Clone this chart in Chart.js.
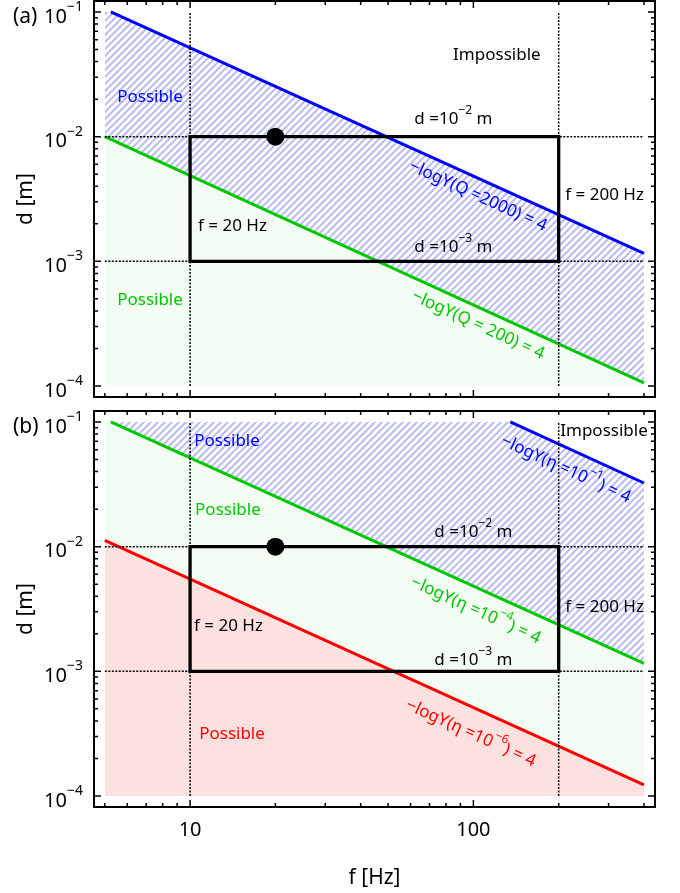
<!DOCTYPE html>
<html>
<head>
<meta charset="utf-8">
<script src="https://cdn.jsdelivr.net/npm/chart.js@4.4.0/dist/chart.umd.min.js"></script>
<style>
  body { margin: 0; background: #fff; }
  #wrap { position: relative; width: 680px; height: 893px; }
  canvas { position: absolute; left: 0; }
</style>
</head>
<body>
<div id="wrap">
  <canvas id="chartA" width="680" height="405" style="top:0"></canvas>
  <canvas id="chartB" width="680" height="488" style="top:405px"></canvas>
</div>
<script>
// frequency span of the curves and shaded areas
const fCurve = [5, 400];
// curves are cut at d = 0.1, shaded areas stop at d = 1e-4
const dCap = 0.1;
const dFloor = 1e-4;
// (a) -logY(Q) = 4
const fQ2000 = [5.25, 400];
const dQ2000 = [0.1, 0.00116];
const fQ200 = [5, 400];
const dQ200 = [0.0100, 0.000106];
// (b) -logY(eta) = 4
const fEta1 = [135, 400];
const dEta1 = [0.1, 0.0324];
const fEta4 = [5.25, 400];
const dEta4 = [0.1, 0.00116];
const fEta6 = [5, 400];
const dEta6 = [0.01125, 0.000123];
// box and marked point
const fBox = [10, 200];
const dBox = [1e-3, 1e-2];
const fMark = [20];
const dMark = [1e-2];
// dotted guides
const fGuides = [10, 200];
const dGuides = [1e-2, 1e-3];
const dGuideSpan = [1e-4, 1e-1];
// axes
const xTicks = [10, 100];
const xTickLabels = ['10', '100'];
const yTicks = [1e-1, 1e-2, 1e-3, 1e-4];
const yTickLabels = ['10^{−1}', '10^{−2}', '10^{−3}', '10^{−4}'];
const xRange = [4.58, 437.5];
const yRange = [8.16e-5, 0.1225];

const FONT = "'Noto Sans', 'DejaVu Sans', sans-serif";
const BLUE = '#0000ff';
const GREEN = '#00c800';
const RED = '#ff0000';
const LIGHT_GREEN = 'rgb(243,253,243)';
const PINK = 'rgb(253,224,224)';

const labelsA = [
    { text: 'Impossible', f: 121, d: 0.0452, color: '#000' },
    { text: 'Possible', f: 7.22, d: 0.0208, color: BLUE },
    { text: 'd =10^{−2} m', f: 85, d: 0.0139, color: '#000' },
    { text: 'f = 200 Hz', f: 211, d: 0.0034, color: '#000', align: 'left' },
    { text: 'f = 20 Hz', f: 10.67, d: 0.00192, color: '#000', align: 'left' },
    { text: 'd =10^{−3} m', f: 85, d: 0.0013, color: '#000' },
    { text: 'Possible', f: 7.22, d: 0.00049, color: GREEN },
    { text: '−logY(Q =2000) = 4', f: 104, d: 0.00334, color: BLUE, along: [fQ2000, dQ2000] },
    { text: '−logY(Q = 200) = 4', f: 104, d: 0.000308, color: GREEN, along: [fQ200, dQ200] }
];
const labelsB = [
    { text: 'Possible', f: 13.5, d: 0.070, color: BLUE },
    { text: 'Impossible', f: 289, d: 0.0842, color: '#000' },
    { text: '−logY(η =10^{−1}) = 4', f: 212, d: 0.0418, color: BLUE, along: [fEta1, dEta1] },
    { text: 'Possible', f: 13.6, d: 0.0196, color: GREEN },
    { text: 'd =10^{−2} m', f: 100, d: 0.0130, color: '#000' },
    { text: '−logY(η =10^{−4}) = 4', f: 102, d: 0.00309, color: GREEN, along: [fEta4, dEta4] },
    { text: 'f = 200 Hz', f: 211, d: 0.00327, color: '#000', align: 'left' },
    { text: 'f = 20 Hz', f: 10.33, d: 0.0023, color: '#000', align: 'left' },
    { text: 'd =10^{−3} m', f: 100, d: 0.00123, color: '#000' },
    { text: '−logY(η =10^{−6}) = 4', f: 98, d: 0.000318, color: RED, along: [fEta6, dEta6] },
    { text: 'Possible', f: 14.06, d: 0.000313, color: RED }
];

function pts(fs, ds) {
    return fs.map((f, i) => ({ x: f, y: ds[i] }));
}

function makeHatch(ctx) {
    const s = 7;
    const c = document.createElement('canvas');
    c.width = s;
    c.height = s;
    const g = c.getContext('2d');
    g.fillStyle = '#fff';
    g.fillRect(0, 0, s, s);
    g.strokeStyle = 'rgb(186,190,245)';
    g.lineWidth = 2.1;
    g.beginPath();
    g.moveTo(0, s); g.lineTo(s, 0);
    g.moveTo(-s / 2, s / 2); g.lineTo(s / 2, -s / 2);
    g.moveTo(s / 2, s * 1.5); g.lineTo(s * 1.5, s / 2);
    g.stroke();
    return ctx.createPattern(c, 'repeat');
}

function curve(fs, ds, color, extra) {
    return Object.assign({
        data: pts(fs, ds),
        showLine: true,
        borderColor: color,
        borderWidth: 3,
        pointRadius: 0,
        fill: false,
        order: 8
    }, extra || {});
}

function area(fs, ds, bg, order) {
    return curve(fs, ds, 'rgba(0,0,0,0)', {
        borderWidth: 0, fill: { value: dFloor }, backgroundColor: bg, order: order
    });
}

function commonSets() {
    const sets = [];
    fGuides.forEach(f => sets.push(curve([f, f], dGuideSpan, '#000', { borderWidth: 1.5, borderDash: [2, 1.5], order: 5 })));
    dGuides.forEach(d => sets.push(curve(fCurve, [d, d], '#000', { borderWidth: 1.5, borderDash: [2, 1.5], order: 5 })));
    sets.push(curve(
        [fBox[0], fBox[0], fBox[1], fBox[1], fBox[0]],
        [dBox[0], dBox[1], dBox[1], dBox[0], dBox[0]],
        '#000', { borderWidth: 3.3, borderJoinStyle: 'miter', borderCapStyle: 'square', order: 2 }));
    sets.push({ data: pts(fMark, dMark), pointRadius: 9, backgroundColor: '#000', borderWidth: 0, order: 1 });
    return sets;
}

function parseRich(s) {
    const parts = [];
    const re = /\^\{([^}]*)\}/g;
    let last = 0, m;
    while ((m = re.exec(s))) {
        if (m.index > last) parts.push({ t: s.slice(last, m.index), sup: false });
        parts.push({ t: m[1], sup: true });
        last = re.lastIndex;
    }
    if (last < s.length) parts.push({ t: s.slice(last), sup: false });
    return parts;
}

function drawRich(ctx, s, x, y, size, align) {
    const parts = parseRich(s);
    const supSize = Math.round(size * 0.7);
    let w = 0;
    parts.forEach(p => {
        ctx.font = (p.sup ? supSize : size) + 'px ' + FONT;
        p.w = ctx.measureText(p.t).width;
        w += p.w;
    });
    let cx = align === 'left' ? x : (align === 'right' ? x - w : x - w / 2);
    ctx.textAlign = 'left';
    ctx.textBaseline = 'middle';
    parts.forEach(p => {
        ctx.font = (p.sup ? supSize : size) + 'px ' + FONT;
        ctx.fillText(p.t, cx, p.sup ? y - size * 0.5 : y);
        cx += p.w;
    });
}

const framePlugin = {
    id: 'frame',
    afterDraw(chart, args, opts) {
        const ctx = chart.ctx;
        const a = chart.chartArea;
        const xs = chart.scales.x, ys = chart.scales.y;
        ctx.save();
        ctx.strokeStyle = '#000';
        ctx.lineWidth = 1.5;
        // x ticks, inward on bottom and top
        const xMinor = [];
        for (let e = 0; e <= 2; e++) {
            for (let m = 2; m <= 9; m++) {
                const v = m * Math.pow(10, e);
                if (v >= xRange[0] && v <= xRange[1]) xMinor.push(v);
            }
        }
        const yMinor = [];
        for (let e = -4; e <= -2; e++) {
            for (let m = 2; m <= 9; m++) yMinor.push(m * Math.pow(10, e));
        }
        ctx.beginPath();
        xTicks.forEach(v => {
            const px = xs.getPixelForValue(v);
            ctx.moveTo(px, a.bottom); ctx.lineTo(px, a.bottom - 7);
            ctx.moveTo(px, a.top); ctx.lineTo(px, a.top + 7);
        });
        xMinor.forEach(v => {
            const px = xs.getPixelForValue(v);
            ctx.moveTo(px, a.bottom); ctx.lineTo(px, a.bottom - 4);
            ctx.moveTo(px, a.top); ctx.lineTo(px, a.top + 4);
        });
        yTicks.forEach(v => {
            const py = ys.getPixelForValue(v);
            ctx.moveTo(a.left, py); ctx.lineTo(a.left + 7, py);
            ctx.moveTo(a.right, py); ctx.lineTo(a.right - 7, py);
        });
        yMinor.forEach(v => {
            const py = ys.getPixelForValue(v);
            ctx.moveTo(a.left, py); ctx.lineTo(a.left + 4, py);
            ctx.moveTo(a.right, py); ctx.lineTo(a.right - 4, py);
        });
        ctx.stroke();
        ctx.lineWidth = 2;
        ctx.strokeRect(a.left, a.top, a.right - a.left, a.bottom - a.top);

        ctx.fillStyle = '#000';
        yTicks.forEach((v, i) => {
            drawRich(ctx, yTickLabels[i], a.left - 11, ys.getPixelForValue(v) + 5, 20, 'right');
        });
        ctx.font = '21px ' + FONT;
        ctx.textAlign = 'left';
        ctx.textBaseline = 'middle';
        ctx.fillText(opts.panel, 13, ys.getPixelForValue(yTicks[0]) + 5);

        // y title
        ctx.save();
        ctx.translate(26, (a.top + a.bottom) / 2);
        ctx.rotate(-Math.PI / 2);
        ctx.font = '21px ' + FONT;
        ctx.textAlign = 'center';
        ctx.fillText('d [m]', 0, 0);
        ctx.restore();

        if (opts.xLabels) {
            ctx.font = '20px ' + FONT;
            ctx.textAlign = 'center';
            xTicks.forEach((v, i) => ctx.fillText(xTickLabels[i], xs.getPixelForValue(v), a.bottom + 23));
            ctx.font = '21px ' + FONT;
            ctx.fillText('f [Hz]', (a.left + a.right) / 2, a.bottom + 71);
        }

        opts.labels.forEach(l => {
            const x = xs.getPixelForValue(l.f);
            const y = ys.getPixelForValue(l.d);
            ctx.fillStyle = l.color;
            if (l.along) {
                const fs = l.along[0], ds = l.along[1];
                const n = fs.length - 1;
                const dx = xs.getPixelForValue(fs[n]) - xs.getPixelForValue(fs[0]);
                const dy = ys.getPixelForValue(ds[n]) - ys.getPixelForValue(ds[0]);
                ctx.save();
                ctx.translate(x, y);
                ctx.rotate(Math.atan2(dy, dx));
                drawRich(ctx, l.text, 0, 0, 17, 'center');
                ctx.restore();
            } else {
                drawRich(ctx, l.text, x, y, 17, l.align || 'center');
            }
        });
        ctx.restore();
    }
};

function makeChart(id, datasets, padding, panel, labels, xLabels) {
    return new Chart(document.getElementById(id), {
        type: 'scatter',
        data: { datasets: datasets },
        options: {
            responsive: false,
            animation: false,
            events: [],
            layout: { padding: padding, autoPadding: false },
            scales: {
                x: { type: 'logarithmic', min: xRange[0], max: xRange[1], bounds: 'data', display: false },
                y: { type: 'logarithmic', min: yRange[0], max: yRange[1], bounds: 'data', display: false }
            },
            plugins: {
                legend: { display: false },
                tooltip: { enabled: false },
                filler: { drawTime: 'beforeDatasetsDraw' },
                frame: { panel: panel, labels: labels, xLabels: xLabels }
            }
        },
        plugins: [framePlugin]
    });
}

const ctxA = document.getElementById('chartA').getContext('2d');
const ctxB = document.getElementById('chartB').getContext('2d');

const setsA = [
    area([fCurve[0]].concat(fQ2000), [dCap].concat(dQ2000), makeHatch(ctxA), 20),
    curve(fQ200, dQ200, GREEN, { fill: { value: dFloor }, backgroundColor: LIGHT_GREEN, order: 19 }),
    curve(fQ2000, dQ2000, BLUE)
].concat(commonSets());

const setsB = [
    area([fCurve[0]].concat(fEta1), [dCap].concat(dEta1), makeHatch(ctxB), 20),
    area([fCurve[0]].concat(fEta4), [dCap].concat(dEta4), LIGHT_GREEN, 19),
    curve(fEta6, dEta6, RED, { fill: { value: dFloor }, backgroundColor: PINK, order: 18 }),
    curve(fEta1, dEta1, BLUE),
    curve(fEta4, dEta4, GREEN)
].concat(commonSets());

makeChart('chartA', setsA, { left: 94, right: 25, top: 1, bottom: 8 }, '(a)', labelsA, false);
makeChart('chartB', setsB, { left: 94, right: 25, top: 6, bottom: 86 }, '(b)', labelsB, true);
</script>
</body>
</html>
